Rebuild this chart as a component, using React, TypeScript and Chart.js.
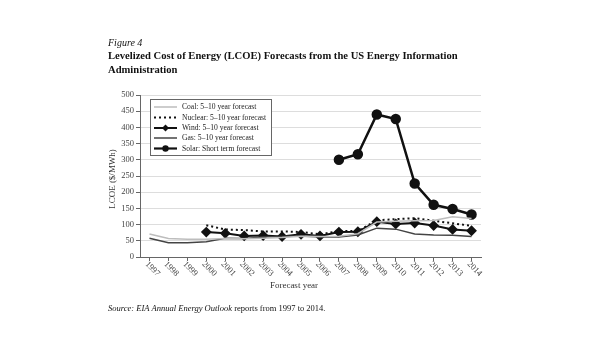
import React, { useEffect, useRef } from "react";
import { Chart, registerables } from "chart.js";
Chart.register(...registerables);

const years = ["1997","1998","1999","2000","2001","2002","2003","2004","2005","2006","2007","2008","2009","2010","2011","2012","2013","2014"];
const coal = [71, 57, 55, 55, 57, 56, 58, 60, 64, 63, 64, 72, 108, 110, 112, 113, 124, 119];
const nuclear = [null, null, null, 98, 85, 83, 79, 79, 77, 70, 80, 80, 113, 117, 120, 112, 104, 96];
const wind = [null, null, null, 77, 73, 65, 66, 63, 70, 65, 77, 78, 109, 102, 105, 97, 85, 81];
const gas = [58, 44, 44, 47, 58, 57, 62, 63, 65, 62, 62, 68, 89, 86, 71, 68, 67, 63];
const solar = [null, null, null, null, null, null, null, null, null, null, 300, 317, 440, 426, 227, 161, 148, 131];
const legendLabels = [
  "Coal: 5\u201310 year forecast",
  "Nuclear: 5\u201310 year forecast",
  "Wind: 5\u201310 year forecast",
  "Gas: 5\u201310 year forecast",
  "Solar: Short term forecast",
];

const SERIF = '"Liberation Serif", "DejaVu Serif", serif';

const textPlugin = {
  id: "textPlugin",
  afterDraw(chart: any) {
    const ctx = chart.ctx as CanvasRenderingContext2D;
    const xs = chart.scales.x;
    ctx.save();
    // headings
    ctx.fillStyle = "#111";
    ctx.textBaseline = "alphabetic";
    ctx.textAlign = "left";
    ctx.font = `italic 10px ${SERIF}`;
    ctx.fillText("Figure 4", 108, 46);
    ctx.font = `bold 10.6px ${SERIF}`;
    ctx.fillText("Levelized Cost of Energy (LCOE) Forecasts from the US Energy Information", 108, 59);
    ctx.fillText("Administration", 108, 73);
    // source
    ctx.font = `italic 8.5px ${SERIF}`;
    const s1 = "Source: EIA Annual Energy Outlook";
    ctx.fillText(s1, 108, 311);
    const w1 = ctx.measureText(s1).width;
    ctx.font = `8.5px ${SERIF}`;
    ctx.fillText(" reports from 1997 to 2014.", 108 + w1, 311);
    // axis titles
    ctx.fillStyle = "#333";
    ctx.font = `9px ${SERIF}`;
    ctx.textAlign = "center";
    ctx.fillText("Forecast year", 294, 288);
    ctx.save();
    ctx.translate(113, 179);
    ctx.rotate(-Math.PI / 2);
    ctx.textBaseline = "middle";
    ctx.fillText("LCOE ($/MWh)", 0, 0);
    ctx.restore();
    // x tick labels rotated clockwise
    ctx.font = `8.5px ${SERIF}`;
    ctx.fillStyle = "#444";
    ctx.textBaseline = "middle";
    years.forEach((y, i) => {
      const px = xs.getPixelForValue(i);
      ctx.save();
      ctx.translate(px + 3, 269);
      ctx.rotate(Math.PI / 4);
      ctx.textAlign = "center";
      ctx.fillText(y, 0, 0);
      ctx.restore();
    });
    // legend
    const bx = 150.5, by = 99.5, bw = 121, bh = 56;
    ctx.fillStyle = "#fff";
    ctx.fillRect(bx, by, bw, bh);
    ctx.strokeStyle = "#666";
    ctx.lineWidth = 1;
    ctx.strokeRect(bx, by, bw, bh);
    const rows = [107, 117.5, 128, 138, 148.5];
    const styles = [
      { color: "#bdbdbd", width: 1.5, dash: [] as number[], marker: "" },
      { color: "#111", width: 2, dash: [2, 3], marker: "" },
      { color: "#111", width: 2, dash: [], marker: "diamond" },
      { color: "#444", width: 1.5, dash: [], marker: "" },
      { color: "#111", width: 2.2, dash: [], marker: "circle" },
    ];
    rows.forEach((ry, i) => {
      const st = styles[i];
      ctx.strokeStyle = st.color;
      ctx.lineWidth = st.width;
      ctx.setLineDash(st.dash);
      ctx.beginPath();
      ctx.moveTo(154, ry);
      ctx.lineTo(177, ry);
      ctx.stroke();
      ctx.setLineDash([]);
      ctx.fillStyle = "#111";
      if (st.marker === "diamond") {
        ctx.beginPath();
        ctx.moveTo(165.5, ry - 3.5);
        ctx.lineTo(169, ry);
        ctx.lineTo(165.5, ry + 3.5);
        ctx.lineTo(162, ry);
        ctx.closePath();
        ctx.fill();
      } else if (st.marker === "circle") {
        ctx.beginPath();
        ctx.arc(165.5, ry, 3.2, 0, Math.PI * 2);
        ctx.fill();
      }
      ctx.fillStyle = "#222";
      ctx.font = `7.6px ${SERIF}`;
      ctx.textAlign = "left";
      ctx.textBaseline = "middle";
      ctx.fillText(legendLabels[i], 182, ry);
    });
    ctx.restore();
  },
};

export default function App() {
  const ref = useRef<HTMLCanvasElement>(null);
  useEffect(() => {
    const chart = new Chart(ref.current!, {
      type: "line",
      data: {
        labels: years,
        datasets: [
          { label: "Coal", data: coal, borderColor: "#bdbdbd", borderWidth: 1.5, pointRadius: 0, tension: 0 },
          { label: "Gas", data: gas, borderColor: "#444", borderWidth: 1.5, pointRadius: 0, tension: 0 },
          { label: "Nuclear", data: nuclear as any, borderColor: "#111", borderWidth: 2, borderDash: [2, 3], pointRadius: 0, tension: 0 },
          { label: "Wind", data: wind as any, borderColor: "#111", borderWidth: 2, pointStyle: "rectRot", pointRadius: 4, pointBackgroundColor: "#111", pointBorderColor: "#111", tension: 0 },
          { label: "Solar", data: solar as any, borderColor: "#111", borderWidth: 2.5, pointStyle: "circle", pointRadius: 4, pointBackgroundColor: "#111", pointBorderColor: "#111", tension: 0 },
        ],
      },
      options: {
        responsive: false,
        animation: false,
        spanGaps: false,
        layout: { padding: { left: 0, top: 95, right: 115, bottom: 0 } },
        plugins: { legend: { display: false }, tooltip: { enabled: false }, title: { display: false } },
        scales: {
          x: {
            type: "category",
            offset: true,
            afterFit: (s: any) => { s.height = 101; },
            grid: { drawOnChartArea: false, drawTicks: true, tickLength: 4, color: "#666", tickColor: "#666" },
            border: { color: "#666", width: 1 },
            ticks: { display: false },
          },
          y: {
            min: 0,
            max: 500,
            afterFit: (s: any) => { s.width = 140; },
            ticks: { stepSize: 50, color: "#444", font: { family: SERIF, size: 8.5 }, padding: 2 },
            grid: { color: "#dddddd", lineWidth: 1, drawTicks: true, tickLength: 4, tickColor: "#666" },
            border: { color: "#666", width: 1 },
          },
        },
      },
      plugins: [textPlugin],
    });
    return () => chart.destroy();
  }, []);
  return (
    <div style={{ position: "fixed", left: 0, top: 0, width: 596, height: 358, background: "#fff" }}>
      <canvas ref={ref} width={596} height={358} style={{ width: 596, height: 358, display: "block" }} />
    </div>
  );
}
